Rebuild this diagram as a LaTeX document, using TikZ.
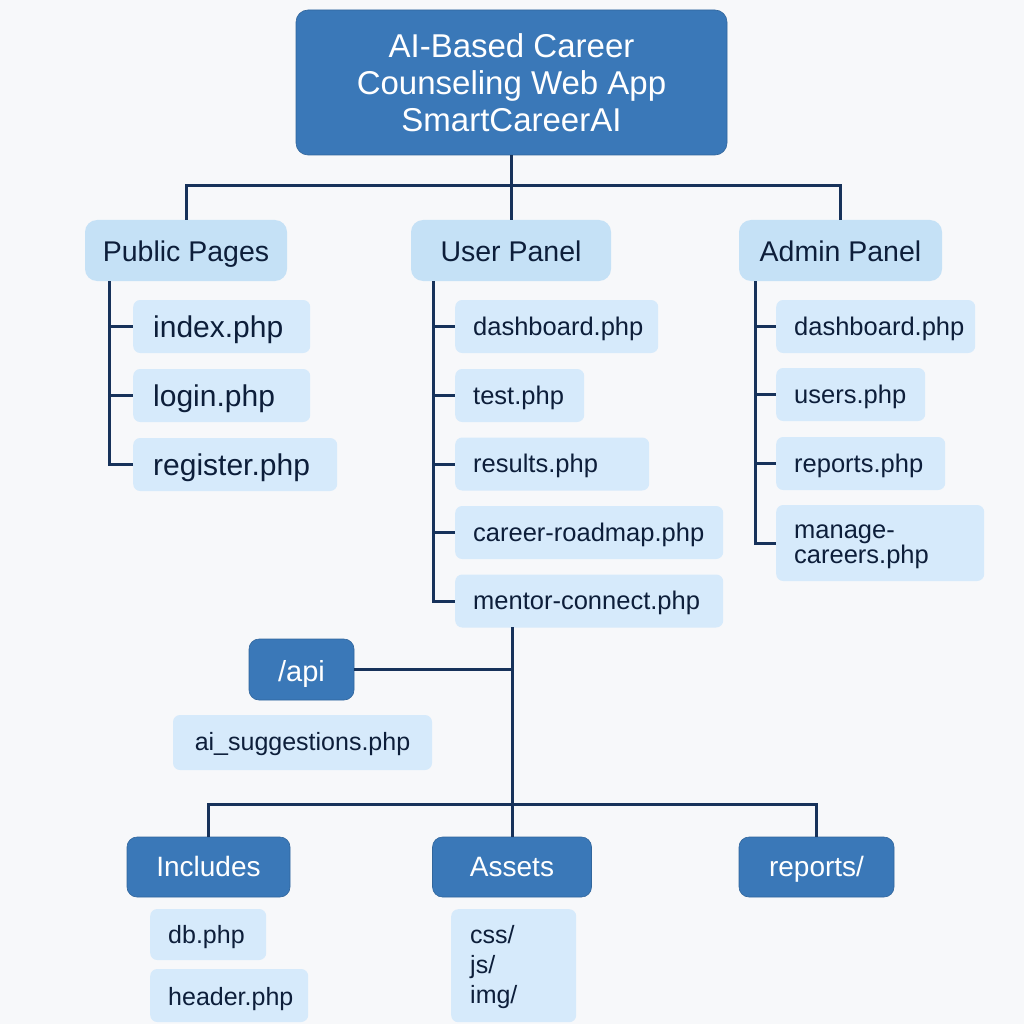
\documentclass[tikz,border=0pt]{standalone}
\usepackage{fontspec}
\setmainfont{Liberation Sans}
\definecolor{bgc}{HTML}{F7F8FA}
\definecolor{darkc}{HTML}{3A78B8}
\definecolor{panelc}{HTML}{C5E1F6}
\definecolor{filec}{HTML}{D6EAFB}
\definecolor{txtc}{HTML}{0D1E3A}
\definecolor{linec}{HTML}{17325A}
\newcommand{\lbx}[2]{\makebox[#1][l]{#2}}
\begin{document}
\begin{tikzpicture}[x=1pt,y=-1pt,
  conn/.style={draw=linec, line width=3pt},
  dbox/.style={fill=darkc, draw=darkc!85!black, line width=0.6pt, rounded corners=10pt, text=white, inner sep=0pt, minimum height=60pt, text height=26pt, text depth=6.6pt},
  panel/.style={fill=panelc, rounded corners=12pt, text=txtc, inner sep=0pt, minimum height=61pt, font=\fontsize{28.5}{34}\selectfont, text height=28pt, text depth=5.6pt},
  file/.style={fill=filec, rounded corners=7pt, text=txtc, anchor=west, inner ysep=0pt, inner xsep=18pt, minimum height=53pt},
  pfile/.style={file, inner xsep=20pt, font=\fontsize{30}{36}\selectfont, text height=29pt, text depth=7.5pt},
  ufile/.style={file, font=\fontsize{25.5}{26}\selectfont, text height=24pt, text depth=7pt},
  ltxt/.style={anchor=base west, inner sep=0pt, text=txtc}
]
\useasboundingbox[fill=bgc] (0,0) rectangle (1024,1024);

% title
\node[fill=darkc, draw=darkc!85!black, line width=0.6pt, text=white, inner sep=0pt, rounded corners=12pt, minimum width=431pt, minimum height=145pt, align=center,
  font=\fontsize{33}{37}\selectfont] (title) at (511.5,82.5) {AI-Based Career\\Counseling Web App\\SmartCareerAI};

% panels
\node[panel, minimum width=202pt] (pub) at (186,250.5) {Public Pages};
\node[panel, minimum width=200pt] (usr) at (511,250.5) {User Panel};
\node[panel, minimum width=203pt] (adm) at (840.5,250.5) {Admin Panel};

% public files
\node[pfile] (index) at (133,326.5) {\lbx{137pt}{index.php}};
\node[pfile] (login) at (133,395.5) {\lbx{137pt}{login.php}};
\node[pfile] (register) at (133,464.5) {\lbx{164pt}{register.php}};

% user files
\node[ufile] (udash) at (455,326.5) {\lbx{167pt}{dashboard.php}};
\node[ufile] (test) at (455,395.5) {\lbx{93pt}{test.php}};
\node[ufile] (results) at (455,464) {\lbx{158pt}{results.php}};
\node[ufile] (roadmap) at (455,532.5) {\lbx{232pt}{career-roadmap.php}};
\node[ufile] (mentor) at (455,601) {\lbx{232pt}{mentor-connect.php}};

% admin files
\node[ufile] (adash) at (776,326.5) {\lbx{163pt}{dashboard.php}};
\node[ufile] (users) at (776,394.5) {\lbx{113pt}{users.php}};
\node[ufile] (areports) at (776,463.5) {\lbx{133pt}{reports.php}};
\node[file, minimum height=76pt, minimum width=208pt] (manage) at (776,543) {};
\node[ltxt, font=\fontsize{25.5}{25}\selectfont] (manage1) at (794,538.5) {manage-};
\node[ltxt, font=\fontsize{25.5}{25}\selectfont] (manage2) at (794,563.5) {careers.php};

% api
\node[dbox, minimum width=105pt, minimum height=61pt, font=\fontsize{29}{34}\selectfont, text height=30pt, text depth=7pt] (api) at (301.5,669.5) {/api};
\node[fill=filec, rounded corners=7pt, text=txtc, inner sep=0pt, minimum width=259pt, minimum height=55pt,
  font=\fontsize{25}{30}\selectfont, text height=22pt, text depth=7pt] (ais) at (302.5,742.5) {ai\_suggestions.php};

% bottom folders
\node[dbox, minimum width=163pt, font=\fontsize{28}{34}\selectfont] (inc) at (208.5,867) {Includes};
\node[dbox, minimum width=159pt, font=\fontsize{28}{34}\selectfont] (assets) at (512,867) {Assets};
\node[dbox, minimum width=155pt, font=\fontsize{28}{34}\selectfont] (rep) at (816.5,867) {reports/};

\node[file, minimum height=51pt, font=\fontsize{25}{30}\selectfont, text height=24pt, text depth=7pt] (db) at (150,934.5) {\lbx{80pt}{db.php}};
\node[file, minimum height=53pt, font=\fontsize{25}{30}\selectfont, text height=26pt, text depth=7pt] (header) at (150,995.5) {\lbx{122pt}{header.php}};
\node[file, anchor=north west, minimum height=113pt, minimum width=125pt] (assetlist) at (451,909) {};
\node[ltxt, font=\fontsize{25}{30}\selectfont] (css) at (470,943) {css/};
\node[ltxt, font=\fontsize{25}{30}\selectfont] (js) at (470,973.5) {js/};
\node[ltxt, font=\fontsize{25}{30}\selectfont] (img) at (470,1003) {img/};

% connectors top
\coordinate (j1) at (511.5,186);
\draw[conn] (title.south) -- (j1);
\draw[conn] (j1) -| (pub.north);
\draw[conn] (j1) -| (adm.north);
\draw[conn] (j1) -- (usr.north -| j1);

% public tree
\coordinate (pt) at (109,281);
\draw[conn] (pt) |- (register.west);
\draw[conn] (pt |- index.west) -- (index.west);
\draw[conn] (pt |- login.west) -- (login.west);

% user tree
\coordinate (ut) at (433,281);
\draw[conn] (ut) |- (mentor.west);
\draw[conn] (ut |- udash.west) -- (udash.west);
\draw[conn] (ut |- test.west) -- (test.west);
\draw[conn] (ut |- results.west) -- (results.west);
\draw[conn] (ut |- roadmap.west) -- (roadmap.west);

% admin tree
\coordinate (at) at (755,281);
\draw[conn] (at) |- (manage.west);
\draw[conn] (at |- adash.west) -- (adash.west);
\draw[conn] (at |- users.west) -- (users.west);
\draw[conn] (at |- areports.west) -- (areports.west);

% lower trunk
\coordinate (m1) at (512,627);
\coordinate (j2) at (512,804);
\draw[conn] (m1) -- (assets.north);
\draw[conn] (api.east) -- (api.east -| m1);
\draw[conn] (j2) -| (inc.north);
\draw[conn] (j2) -| (rep.north);
\end{tikzpicture}
\end{document}
